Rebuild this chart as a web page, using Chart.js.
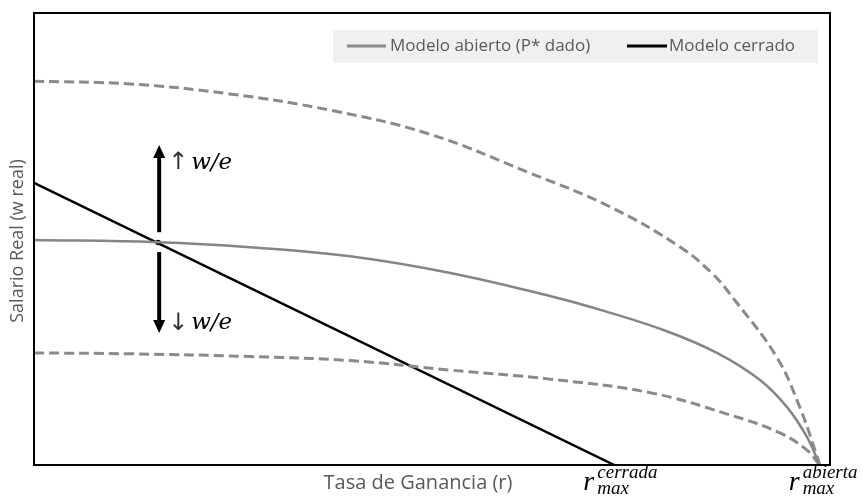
<!DOCTYPE html>
<html>
<head>
<meta charset="utf-8">
<script src="https://cdn.jsdelivr.net/npm/chart.js@4"></script>
<style>
  html, body { margin: 0; padding: 0; background: #fff; }
  #wrap { width: 863px; height: 498px; }
</style>
</head>
<body>
<div id="wrap"><canvas id="grafico"></canvas></div>
<script>
// valores (r en escala 0-100 del eje, w en escala 0-100)
const rAbiertoArriba = [0, 12.1, 24.6, 37.2, 49.7, 62.3, 72.4, 81.2, 85.3, 87.8, 93.3, 96.2, 98.4, 98.7]
const wAbiertoArriba = [84.9, 84.3, 82.1, 78.5, 73.2, 64.6, 57.1, 48.2, 42.2, 37.0, 23.9, 12.8, 1.8, 0]

const rAbierto = [0, 15.5, 27.1, 39.7, 52.3, 64.8, 71.6, 79.5, 85.8, 91.2, 94.6, 97.1, 98.7]
const wAbierto = [49.8, 49.3, 48.2, 46.2, 42.5, 37.4, 34.1, 29.6, 24.8, 18.8, 12.8, 6.2, 0]

const rAbiertoAbajo = [0, 12.1, 27.1, 39.7, 52.3, 64.8, 77.4, 87.4, 93.7, 97.1, 98.7]
const wAbiertoAbajo = [24.8, 24.6, 24.0, 23.1, 21.0, 19.0, 16.0, 11.1, 7.1, 3.3, 0]

const rCerrado = [0, 72.9]
const wCerrado = [62.4, 0]

const equilibrio = {x: 15.6, y: 49.2}
const flechaArriba = [51.5, 70.8]
const flechaAbajo = [47.1, 29.2]
const rMaxCerrada = 72.9
const rMaxAbierta = 98.7

const gris = '#8a8a8a'
const textoGris = '#595959'

const pares = (xs, ys) => xs.map((x, i) => ({x: x, y: ys[i]}))

const dibujos = {
    id: 'dibujos',
    beforeDatasetsDraw(chart) {
        const {ctx} = chart
        ctx.save()
        // fondo de la leyenda
        ctx.fillStyle = '#f0f0f0'
        ctx.fillRect(333, 30, 485, 33)
        ctx.restore()
    },
    afterDatasetsDraw(chart) {
        const {ctx, chartArea: a, scales} = chart
        const xs = scales.x, ys = scales.y
        ctx.save()

        // marco
        ctx.strokeStyle = '#000'
        ctx.lineWidth = 2
        ctx.strokeRect(a.left, a.top, a.right - a.left, a.bottom - a.top)

        // flechas verticales
        const fx = xs.getPixelForValue(equilibrio.x) + 1
        const flecha = (y0, y1) => {
            const p0 = ys.getPixelForValue(y0), p1 = ys.getPixelForValue(y1)
            const dir = p1 < p0 ? -1 : 1
            ctx.strokeStyle = '#000'
            ctx.lineWidth = 4
            ctx.beginPath()
            ctx.moveTo(fx, p0)
            ctx.lineTo(fx, p1 - dir * 10)
            ctx.stroke()
            ctx.fillStyle = '#000'
            ctx.beginPath()
            ctx.moveTo(fx, p1)
            ctx.lineTo(fx - 6, p1 - dir * 13)
            ctx.lineTo(fx + 6, p1 - dir * 13)
            ctx.closePath()
            ctx.fill()
        }
        flecha(flechaArriba[0], flechaArriba[1])
        flecha(flechaAbajo[0], flechaAbajo[1])

        // textos w/e
        ctx.fillStyle = '#333'
        ctx.textBaseline = 'middle'
        ctx.font = '24px "DejaVu Sans"'
        ctx.fillText('\u2191', fx + 9, ys.getPixelForValue(66.8))
        ctx.fillText('\u2193', fx + 9, ys.getPixelForValue(31.3))
        ctx.fillStyle = '#000'
        ctx.font = 'italic 23px "DejaVu Serif"'
        ctx.fillText('w/e', fx + 32, ys.getPixelForValue(66.8))
        ctx.fillText('w/e', fx + 32, ys.getPixelForValue(31.3))

        // leyenda
        ctx.textBaseline = 'middle'
        ctx.font = '17px "Open Sans"'
        ctx.lineWidth = 3
        ctx.strokeStyle = gris
        ctx.beginPath(); ctx.moveTo(347, 46); ctx.lineTo(386, 46); ctx.stroke()
        ctx.fillStyle = textoGris
        ctx.fillText(chart.data.datasets[1].label, 390, 46)
        ctx.strokeStyle = '#000'
        ctx.beginPath(); ctx.moveTo(627, 46); ctx.lineTo(667, 46); ctx.stroke()
        ctx.fillText(chart.data.datasets[3].label, 669, 46)

        // titulos de ejes
        ctx.font = '20px "Open Sans"'
        ctx.textAlign = 'center'
        ctx.fillText('Tasa de Ganancia (r)', 418, 483)
        ctx.save()
        ctx.translate(18, 241)
        ctx.rotate(-Math.PI / 2)
        ctx.font = '18px "Open Sans"'
        ctx.fillText('Salario Real (w real)', 0, 0)
        ctx.restore()

        // r max
        const rmax = (val, sup) => {
            const px = xs.getPixelForValue(val)
            ctx.fillStyle = '#000'
            ctx.textAlign = 'left'
            ctx.textBaseline = 'alphabetic'
            ctx.font = 'italic 28px "Liberation Serif"'
            ctx.fillText('r', px - 31, 490)
            ctx.font = 'italic 19px "Liberation Serif"'
            ctx.fillText(sup, px - 17, 478)
            ctx.fillText('max', px - 17, 494)
        }
        rmax(rMaxCerrada, 'cerrada')
        rmax(rMaxAbierta, 'abierta')

        ctx.restore()
    }
}

new Chart(document.getElementById('grafico'), {
    type: 'scatter',
    data: {
        datasets: [
            {
                label: 'Abierto (arriba)',
                data: pares(rAbiertoArriba, wAbiertoArriba),
                showLine: true,
                borderColor: gris,
                borderWidth: 3,
                borderDash: [10, 5],
                pointRadius: 0,
                tension: 0.4
            },
            {
                label: 'Modelo abierto (P* dado)',
                data: pares(rAbierto, wAbierto),
                showLine: true,
                borderColor: '#858585',
                borderWidth: 2.5,
                pointRadius: 0,
                tension: 0.4
            },
            {
                label: 'Abierto (abajo)',
                data: pares(rAbiertoAbajo, wAbiertoAbajo),
                showLine: true,
                borderColor: gris,
                borderWidth: 3,
                borderDash: [10, 5],
                pointRadius: 0,
                tension: 0.4
            },
            {
                label: 'Modelo cerrado',
                data: pares(rCerrado, wCerrado),
                showLine: true,
                borderColor: '#000',
                borderWidth: 2.5,
                pointRadius: 0
            },
            {
                label: 'Equilibrio',
                data: [equilibrio],
                pointRadius: 3.5,
                pointBackgroundColor: '#000',
                pointBorderColor: '#fff',
                pointBorderWidth: 1.5
            }
        ]
    },
    options: {
        responsive: true,
        maintainAspectRatio: false,
        animation: false,
        layout: {padding: {left: 34, right: 33, top: 13, bottom: 33}},
        plugins: {
            legend: {display: false},
            tooltip: {enabled: false}
        },
        scales: {
            x: {type: 'linear', min: 0, max: 100, display: false},
            y: {type: 'linear', min: 0, max: 100, display: false}
        }
    },
    plugins: [dibujos]
})
</script>
</body>
</html>
